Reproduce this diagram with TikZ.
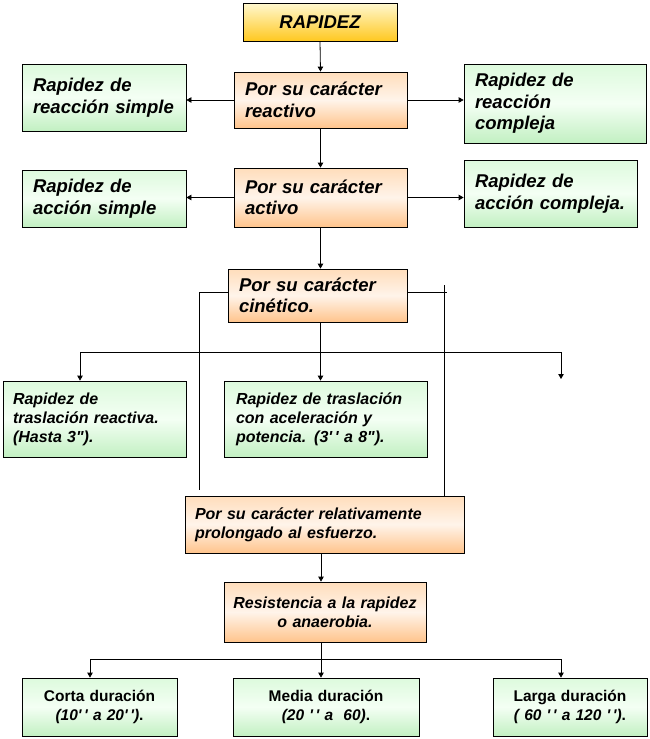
\documentclass[tikz,border=0pt]{standalone}
\usepackage{fontspec}
\setmainfont{Liberation Sans}
\usetikzlibrary{arrows.meta,shadows}
\definecolor{G1}{HTML}{DDFADD}
\definecolor{G2}{HTML}{F4FFF4}
\definecolor{G3}{HTML}{C2F0C2}
\definecolor{O1}{HTML}{FFDDBB}
\definecolor{O2}{HTML}{FFF4EA}
\definecolor{O3}{HTML}{FFC48C}
\definecolor{Y1}{HTML}{FFF8D0}
\definecolor{Y3}{HTML}{FFC820}
\begin{document}
\begin{tikzpicture}[x=1pt,y=-1pt,
  base/.style={draw=black, line width=0.8pt, inner ysep=1pt,
    drop shadow={shadow xshift=1.3pt, shadow yshift=-1.3pt, fill=black!60, opacity=1}},
  gbox/.style={base, top color=G1, bottom color=G3, middle color=G2},
  obox/.style={base, top color=O1, bottom color=O3, middle color=O2},
  ybox/.style={base, top color=Y1, bottom color=Y3},
  big/.style={font=\bfseries\itshape\fontsize{18.5}{21.5}\selectfont},
  mid/.style={font=\bfseries\itshape\fontsize{16}{19}\selectfont},
  low/.style={font=\bfseries\fontsize{15.5}{18.5}\selectfont},
  L/.style={align=left, inner xsep=11pt},
  C/.style={align=center, inner xsep=5pt},
  ln/.style={draw=black, line width=0.8pt},
  arr/.style={ln, -{Triangle[length=5pt,width=5.5pt]}}
]
\useasboundingbox (0,0) rectangle (649,739);

% top level
\node[ybox, big, C, minimum width=154pt, text width=144pt, minimum height=38pt] (rap) at (320,22) {RAPIDEZ};

\node[obox, big, L, minimum width=173pt, text width=151pt, minimum height=56pt] (reac) at (320.5,100)
  {\mbox{Por su carácter}\\\mbox{reactivo}};
\node[gbox, big, L, minimum width=164pt, text width=142pt, minimum height=67pt] (rs) at (104,97.5)
  {\mbox{Rapidez de}\\\mbox{reacción simple}};
\node[gbox, big, L, minimum width=182pt, text width=160pt, minimum height=79pt] (rc) at (555,103.5)
  {\mbox{Rapidez de}\\\mbox{reacción}\\\mbox{compleja}};

\node[obox, big, L, minimum width=173pt, text width=151pt, minimum height=59pt] (act) at (320.5,197.5)
  {\mbox{Por su carácter}\\\mbox{activo}};
\node[gbox, big, L, minimum width=164pt, text width=142pt, minimum height=57pt] (as) at (104,198.5)
  {\mbox{Rapidez de}\\\mbox{acción simple}};
\node[gbox, big, L, minimum width=173pt, text width=151pt, minimum height=67pt] (ac) at (550.5,193.5)
  {\mbox{Rapidez de}\\\mbox{acción compleja.}};

\node[obox, big, L, minimum width=179pt, text width=157pt, minimum height=53pt] (cin) at (317.5,295.5)
  {\mbox{Por su carácter}\\\mbox{cinético.}};

% middle level
\node[gbox, mid, L, inner xsep=10pt, minimum width=183pt, text width=163pt, minimum height=76pt] (tr) at (94.5,419)
  {\mbox{Rapidez de}\\\mbox{traslación reactiva.}\\\mbox{(Hasta 3\textquotedbl).}};
\node[gbox, mid, L, inner xsep=12pt, minimum width=203pt, text width=179pt, minimum height=76pt] (ta) at (325.5,419)
  {\mbox{Rapidez de traslación}\\\mbox{con aceleración y}\\\mbox{potencia. (3\textquotesingle\,\textquotesingle{} a 8\textquotedbl).}};

\node[obox, mid, L, inner xsep=10pt, minimum width=279pt, text width=259pt, minimum height=57pt] (prol) at (324.5,524.5)
  {\mbox{Por su carácter relativamente}\\\mbox{prolongado al esfuerzo.}};
\node[obox, mid, C, minimum width=202pt, text width=192pt, minimum height=60pt] (res) at (325,612)
  {Resistencia a la rapidez\\o anaerobia.};

% bottom level
\node[gbox, low, C, minimum width=155pt, text width=145pt, minimum height=58pt] (cd) at (99.5,707)
  {Corta duración\\\textit{(10\textquotesingle\,\textquotesingle{} a 20\textquotesingle\,\textquotesingle)}.};
\node[gbox, low, C, minimum width=186pt, text width=176pt, minimum height=58pt] (md) at (326,707)
  {Media duración\\\textit{(20 \textquotesingle\,\textquotesingle{} a\ \ 60)}.};
\node[gbox, low, C, minimum width=154pt, text width=144pt, minimum height=58pt] (ld) at (570,707)
  {Larga duración\\\textit{( 60 \textquotesingle\,\textquotesingle{} a 120 \textquotesingle\,\textquotesingle)}.};

% connectors, top part
\draw[arr] (rap.south) -- (reac.north);
\draw[arr] (reac.west) -- (reac.west -| rs.east);
\draw[arr] (reac.east) -- (reac.east -| rc.west);
\draw[arr] (reac.south) -- (act.north);
\draw[arr] (act.west) -- (act.west -| as.east);
\draw[arr] (act.east) -- (act.east -| ac.west);
\draw[arr] (act.south) -- (act.south |- cin.north);

% kinetic branch
\coordinate (hL) at (80,352);
\coordinate (hR) at (561,352);
\coordinate (hE) at (561,379);
\draw[arr] (act.south |- cin.south) -- (act.south |- ta.north);
\draw[ln] (hL) -- (hR);
\draw[arr] (hL) -- (hL |- tr.north);
\draw[arr] (hR) -- (hE);

% side lines
\coordinate (lA) at (199,292);
\coordinate (lB) at (199,490);
\draw[ln] (cin.west |- lA) -- (lA) -- (lB);
\coordinate (rA) at (447,292);
\coordinate (rT) at (444,285);
\draw[ln] (cin.east |- rA) -- (rA);
\draw[ln] (rT) -- (rT |- prol.north);

% lower part
\coordinate (m) at (321,659);
\coordinate (bL) at (90,659);
\coordinate (bR) at (561,659);
\draw[arr] (prol.south -| m) -- (res.north -| m);
\draw[ln] (res.south -| m) -- (m);
\draw[ln] (bL) -- (bR);
\draw[arr] (bL) -- (bL |- cd.north);
\draw[arr] (m) -- (m |- md.north);
\draw[arr] (bR) -- (bR |- ld.north);
\end{tikzpicture}
\end{document}
